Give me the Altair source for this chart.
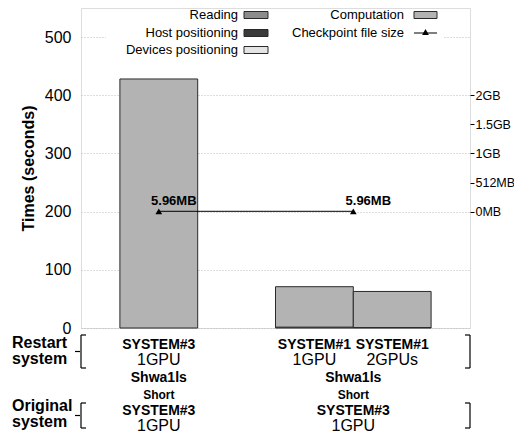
import altair as alt
import pandas as pd

# ---------------- data ----------------
runs = ["SYSTEM#3 1GPU", "SYSTEM#1 1GPU", "SYSTEM#1 2GPUs"]
run_system = ["SYSTEM#3", "SYSTEM#1", "SYSTEM#1"]
run_gpus = ["1GPU", "1GPU", "2GPUs"]
run_group = ["orig1", "orig2", "orig2"]
slot_order = ["SYSTEM#3 1GPU", None, "SYSTEM#1 1GPU", "SYSTEM#1 2GPUs"]

components = ["Reading", "Host positioning", "Devices positioning", "Computation"]
reading = [0, 0, 0]
host_pos = [0, 1.5, 0.8]
devices_pos = [0, 0, 0]
computation = [428, 69.5, 62]

groups = ["orig1", "orig2"]
group_app = ["Shwa1ls", "Shwa1ls"]
group_case = ["Short", "Short"]
group_system = ["SYSTEM#3", "SYSTEM#3"]
group_gpus = ["1GPU", "1GPU"]

ckpt_mb = [5.96, 5.96]
ckpt_label = ["5.96MB", "5.96MB"]

time_ticks = [0, 100, 200, 300, 400, 500]
size_ticks_mb = [0, 512, 1024, 1536, 2048]
size_tick_labels = ["0MB", "512MB", "1GB", "1.5GB", "2GB"]

comp_colors = ["#8c8c8c", "#3a3a3a", "#e4e4e4", "#b3b3b3"]

# ---------------- tables ----------------
pos = {r: i + 1 for i, r in enumerate(slot_order) if r is not None}
rows = []
series = [reading, host_pos, devices_pos, computation]
for ri, r in enumerate(runs):
    for ci, c in enumerate(components):
        v = series[ci][ri]
        if v > 0:
            rows.append({"run": r, "component": c, "order": ci, "value": v,
                         "x0": pos[r] - 0.5, "x1": pos[r] + 0.5})
bars_df = pd.DataFrame(rows)

runs_df = pd.DataFrame({"run": runs, "system": run_system, "gpus": run_gpus,
                        "pos": [pos[r] for r in runs]})
gpos = [sum(pos[r] for r, g in zip(runs, run_group) if g == grp) /
        sum(1 for g in run_group if g == grp) for grp in groups]
groups_df = pd.DataFrame({"group": groups, "app": group_app, "case": group_case,
                          "system": group_system, "gpus": group_gpus, "pos": gpos})
ckpt_df = pd.DataFrame({"pos": gpos, "mb": ckpt_mb, "label": ckpt_label})

W, H = 389, 320
xscale = alt.Scale(domain=[0, 5], nice=False, zero=False)
FONT = "Liberation Sans"

# ---------------- bars ----------------
bars = alt.Chart(bars_df).transform_stack(
    stack="value", groupby=["run"], as_=["y0", "y1"],
    sort=[alt.SortField("order", order="ascending")]
).mark_bar(stroke="#2a2a2a", strokeWidth=1).encode(
    x=alt.X("x0:Q", scale=xscale, axis=None),
    x2="x1:Q",
    y=alt.Y("y0:Q", scale=alt.Scale(domain=[0, 550], nice=False),
            axis=alt.Axis(values=time_ticks, grid=True, gridDash=[1, 2], gridColor="#bbbbbb",
                          ticks=False, domain=False, labelFontSize=16, labelPadding=10,
                          labelColor="black", title="Times (seconds)", titleFontSize=16,
                          titleFontWeight="bold", titlePadding=8, titleColor="black")),
    y2="y1:Q",
    color=alt.Color("component:N", scale=alt.Scale(domain=components, range=comp_colors),
                    legend=None),
)

# ---------------- checkpoint size (right axis) ----------------
label_expr = " : ".join(f"datum.value == {v} ? '{l}'" for v, l in zip(size_ticks_mb, size_tick_labels)) + " : ''"
ck = alt.Chart(ckpt_df).encode(
    x=alt.X("pos:Q", scale=xscale, axis=None),
    y=alt.Y("mb:Q", scale=alt.Scale(domain=[-2048, 3584], nice=False, zero=False),
            axis=alt.Axis(orient="right", values=size_ticks_mb, labelExpr=label_expr,
                          grid=False, domain=False, tickSize=4, tickColor="black",
                          labelPadding=1, labelFontSize=12.5, labelColor="black", title=None)),
)
ck_line = ck.mark_line(color="black", strokeWidth=1)
ck_pts = ck.mark_point(shape="triangle-up", filled=True, color="black", size=45, opacity=1)
ck_lbl = ck.mark_text(dx=15, dy=-10, fontWeight="bold", fontSize=13, font=FONT,
                      color="black").encode(text="label:N")
right_layer = alt.layer(ck_line, ck_pts, ck_lbl)

# ---------------- legend (drawn) ----------------
leg_bg = alt.Chart(pd.DataFrame({"a": [0]})).mark_rect(color="white").encode(
    x=alt.value(25), x2=alt.value(362), y=alt.value(1), y2=alt.value(55))

leg_items = pd.DataFrame({
    "label": ["Reading", "Host positioning", "Devices positioning", "Computation"],
    "tx": [157, 157, 157, 323],
    "ty": [7, 25, 42, 7],
    "sx0": [163, 163, 163, 333],
    "sx1": [187, 187, 187, 356],
    "color": [comp_colors[0], comp_colors[1], comp_colors[2], comp_colors[3]],
})
leg_items["sy0"] = leg_items["ty"] - 3.5
leg_items["sy1"] = leg_items["ty"] + 3.5
leg_text = alt.Chart(pd.concat([leg_items[["label", "tx", "ty"]],
                                pd.DataFrame({"label": ["Checkpoint file size"], "tx": [323], "ty": [25]})])
                     ).mark_text(align="right", baseline="middle", fontSize=13, font=FONT,
                                 color="black").encode(
    x=alt.X("tx:Q", scale=None, axis=None), y=alt.Y("ty:Q", scale=None, axis=None), text="label:N")
leg_sw = alt.Chart(leg_items).mark_rect(stroke="#2a2a2a", strokeWidth=1).encode(
    x=alt.X("sx0:Q", scale=None, axis=None), x2="sx1:Q",
    y=alt.Y("sy0:Q", scale=None, axis=None), y2="sy1:Q",
    fill=alt.Fill("color:N", scale=None))
leg_line = alt.Chart(pd.DataFrame({"x0": [333], "x1": [356], "y": [25]})).mark_rule(
    color="black", strokeWidth=1).encode(
    x=alt.X("x0:Q", scale=None, axis=None), x2="x1:Q", y=alt.Y("y:Q", scale=None, axis=None))
leg_tri = alt.Chart(pd.DataFrame({"x": [344.5], "y": [24]})).mark_point(
    shape="triangle-up", filled=True, color="black", size=45, opacity=1).encode(
    x=alt.X("x:Q", scale=None, axis=None), y=alt.Y("y:Q", scale=None, axis=None))

# ---------------- bottom labels ----------------
def run_text(field, ypix, size, weight):
    return alt.Chart(runs_df).mark_text(fontSize=size, fontWeight=weight, font=FONT,
                                        color="black", baseline="middle").encode(
        x=alt.X("pos:Q", scale=xscale, axis=None), y=alt.value(ypix), text=f"{field}:N")

def grp_text(field, ypix, size, weight):
    return alt.Chart(groups_df).mark_text(fontSize=size, fontWeight=weight, font=FONT,
                                          color="black", baseline="middle").encode(
        x=alt.X("pos:Q", scale=xscale, axis=None), y=alt.value(ypix), text=f"{field}:N")

bottom = [
    run_text("system", 337, 14, "bold"),
    run_text("gpus", 352, 16, "normal"),
    grp_text("app", 370, 14, "bold"),
    grp_text("case", 386.5, 12, "bold"),
    grp_text("system", 403, 14, "bold"),
    grp_text("gpus", 418, 16, "normal"),
]

head_df = pd.DataFrame({"t": ["Restart", "system", "Original", "system"],
                        "y": [335, 351, 398, 414]})
heads = alt.Chart(head_df).mark_text(align="left", baseline="middle", fontSize=16,
                                     fontWeight="bold", font=FONT, color="black").encode(
    x=alt.value(-69), y=alt.Y("y:Q", scale=None, axis=None), text="t:N")

br = []
for (top, bot) in [(327, 360), (395, 420)]:
    mid = (top + bot) / 2
    br += [
        {"x": 0, "x2": 0, "y": top, "y2": bot},
        {"x": 0, "x2": 5, "y": top, "y2": top},
        {"x": 0, "x2": 5, "y": bot, "y2": bot},
        {"x": -6, "x2": -1, "y": mid, "y2": mid},
        {"x": W, "x2": W, "y": top, "y2": bot},
        {"x": W - 5, "x2": W, "y": top, "y2": top},
        {"x": W - 5, "x2": W, "y": bot, "y2": bot},
    ]
brackets = alt.Chart(pd.DataFrame(br)).mark_rule(color="black", strokeWidth=1.2).encode(
    x=alt.X("x:Q", scale=None, axis=None), x2="x2:Q",
    y=alt.Y("y:Q", scale=None, axis=None), y2="y2:Q")

chart = alt.layer(
    bars, leg_bg, leg_sw, leg_line, leg_tri, leg_text, right_layer,
    *bottom, heads, brackets,
).resolve_scale(y="independent").properties(
    width=W, height=H,
    autosize=alt.AutoSizeParams(type="none"),
    padding={"left": 73, "top": 0, "right": 44, "bottom": 106},
).configure_view(stroke="black", strokeWidth=1).configure(font=FONT)

chart.save("out.html", embed_options={"renderer": "svg", "actions": False})
